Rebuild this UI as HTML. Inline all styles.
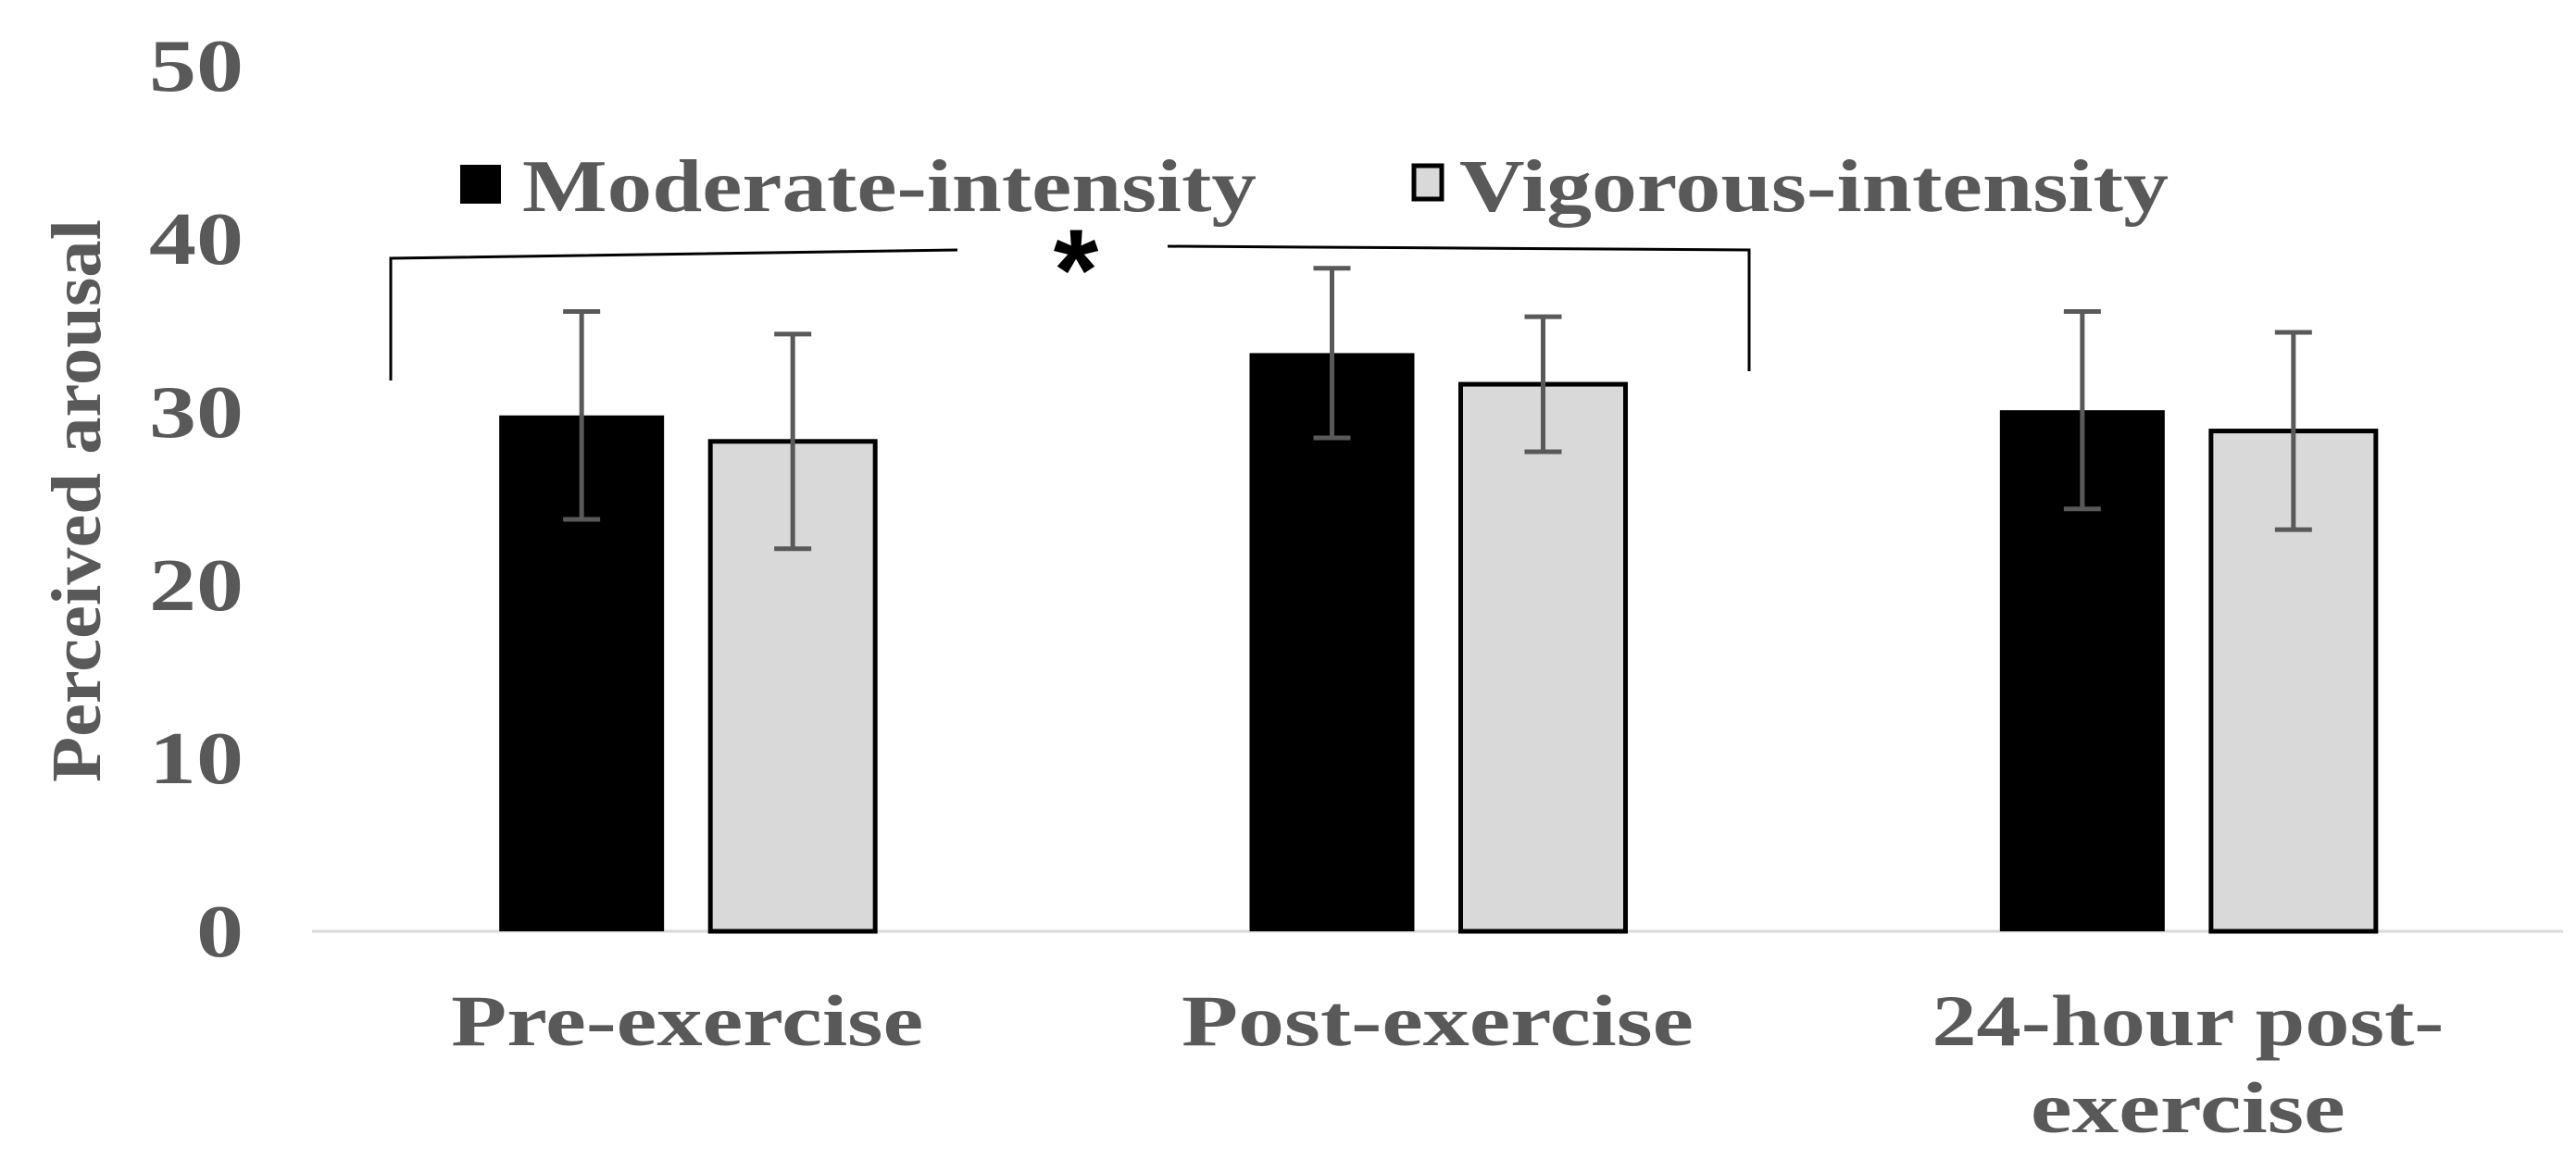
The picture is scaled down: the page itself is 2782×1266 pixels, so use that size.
<!DOCTYPE html>
<html><head><meta charset="utf-8"><style>
html,body{margin:0;padding:0;background:#fff;}
svg{display:block;font-family:"Liberation Serif",serif;font-weight:bold;}
</style></head><body>
<svg id="chart" width="2782" height="1266" viewBox="0 0 2782 1266" xmlns="http://www.w3.org/2000/svg">
<g id="axes"></g><g id="marks"></g>
<g>
<rect x="497" y="178" width="44" height="42" fill="#000"/>
<text x="564" y="228" font-size="80" textLength="793" lengthAdjust="spacingAndGlyphs" fill="#595959">Moderate-intensity</text>
<rect x="1527" y="179" width="30" height="36" fill="#d9d9d9" stroke="#000" stroke-width="5"/>
<text x="1576" y="228" font-size="80" textLength="766" lengthAdjust="spacingAndGlyphs" fill="#595959">Vigorous-intensity</text>
</g>
<g fill="none" stroke="#000" stroke-width="3">
<polyline points="422,411 422,279 1034,270"/>
<polyline points="1261,266 1889,270 1889,401"/>
</g>
<text x="1162" y="335" font-size="125" font-family="Liberation Sans, sans-serif" text-anchor="middle" fill="#000">*</text>
<text transform="translate(108,541) rotate(-90)" text-anchor="middle" font-size="76" textLength="608" lengthAdjust="spacingAndGlyphs" fill="#595959">Perceived arousal</text>
</svg>
<script>
const categories = ["Pre-exercise", "Post-exercise", "24-hour post-|exercise"];
const moderate = [29.8, 33.4, 30.1];
const vigorous = [28.3, 31.6, 28.9];
const moderateErr = [6.0, 4.9, 5.7];
const vigorousErr = [6.2, 3.9, 5.7];
const yTicks = [0, 10, 20, 30, 40, 50];

const NS = "http://www.w3.org/2000/svg";
const x0 = 337, x1 = 2768, y0 = 1006, yTop = 71, yMax = 50;
const y = v => y0 - (v / yMax) * (y0 - yTop);
const bandW = (x1 - x0) / categories.length;
const xc = i => x0 + bandW * (i + 0.5);
const barW = 178, off = 114;
const axes = document.getElementById('axes');
const marks = document.getElementById('marks');
function mk(tag, attrs, parent) {
  const e = document.createElementNS(NS, tag);
  for (const k in attrs) e.setAttribute(k, attrs[k]);
  parent.appendChild(e);
  return e;
}
yTicks.forEach(t => {
  const s = String(t);
  const el = mk('text', {x: 263, y: y(t) + 27, 'text-anchor': 'end', 'font-size': 80, fill: '#595959', textLength: s.length * 51, lengthAdjust: 'spacingAndGlyphs'}, axes);
  
  
  el.textContent = s;
});
const base = mk('line', {x1: x0, x2: x1, y1: y0, y2: y0, stroke: '#d9d9d9', 'stroke-width': 3}, axes);


categories.forEach((c, i) => {
  const lines = c.split('|');
  lines.forEach((ln, j) => {
    const el = mk('text', {x: xc(i), y: 1129 + j * 94, 'text-anchor': 'middle', 'font-size': 78, fill: '#595959', textLength: Math.round(ln.length * 42.5), lengthAdjust: 'spacingAndGlyphs'}, axes);
    
    
    el.textContent = ln;
  });
});
function bar(i, v, err, dx, fill, name) {
  const cx = xc(i) + dx;
  const r = mk('rect', {x: cx - barW / 2, y: y(v), width: barW, height: y0 - y(v), fill: fill, stroke: '#000', 'stroke-width': fill === '#000' ? 0 : 5}, marks);
  
  
  const g = mk('g', {stroke: '#595959', 'stroke-width': 5}, marks);
  
  
  mk('line', {x1: cx, x2: cx, y1: y(v + err), y2: y(v - err)}, g);
  mk('line', {x1: cx - 20, x2: cx + 20, y1: y(v + err), y2: y(v + err)}, g);
  mk('line', {x1: cx - 20, x2: cx + 20, y1: y(v - err), y2: y(v - err)}, g);
}
categories.forEach((c, i) => {
  bar(i, moderate[i], moderateErr[i], -off, '#000', 'bar-moderate-' + i);
  bar(i, vigorous[i], vigorousErr[i], off, '#d9d9d9', 'bar-vigorous-' + i);
});
</script>
</body></html>
